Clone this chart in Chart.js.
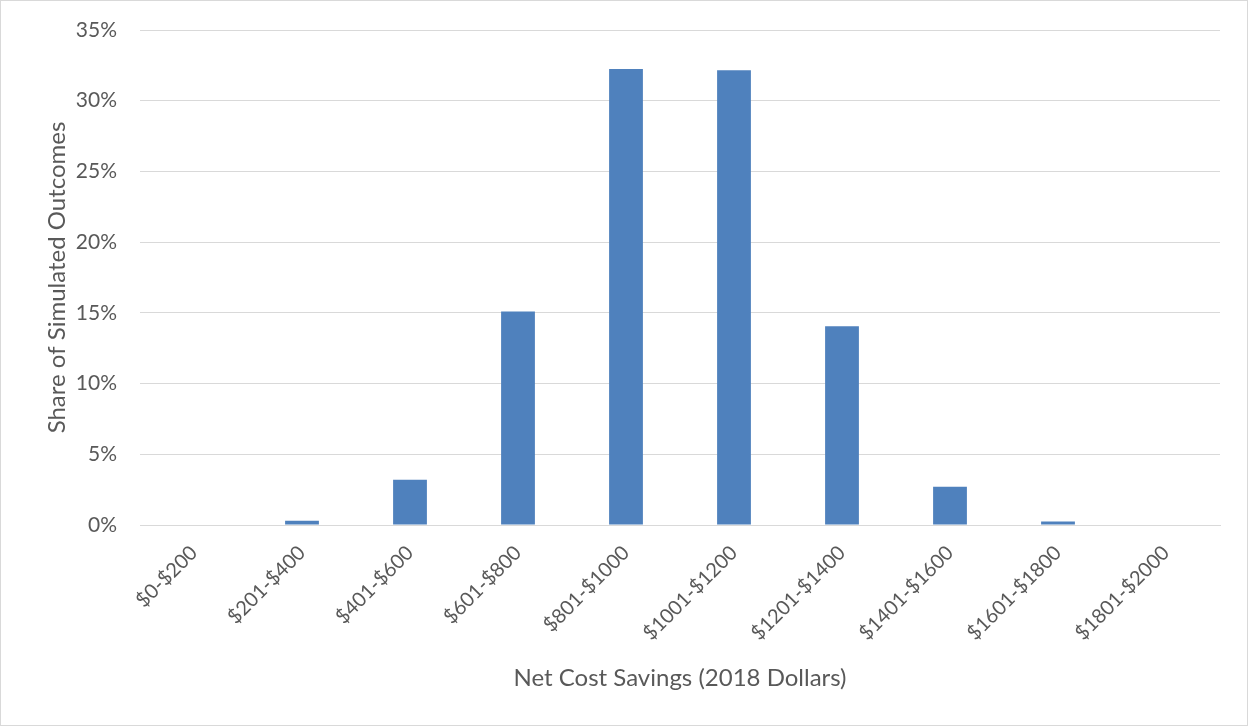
<!DOCTYPE html>
<html>
<head>
<meta charset="utf-8">
<script src="https://cdn.jsdelivr.net/npm/chart.js@4"></script>
<style>
    html, body { margin: 0; padding: 0; background: #fff; }
    #wrap { width: 1246px; height: 724px; border: 1px solid #d9d9d9; position: relative; }
    canvas { display: block; }
</style>
</head>
<body>
<div id="wrap"><canvas id="chart" width="1246" height="724"></canvas></div>
<script>
const categories = ["$0-$200", "$201-$400", "$401-$600", "$601-$800", "$801-$1000",
    "$1001-$1200", "$1201-$1400", "$1401-$1600", "$1601-$1800", "$1801-$2000"];
const shares = [0, 0.3, 3.2, 15.1, 32.25, 32.15, 14.05, 2.7, 0.25, 0];
const yTicks = [0, 5, 10, 15, 20, 25, 30, 35];

const textColor = "#595959";
const gridColor = "#d9d9d9";
const fontFamily = "Lato, 'Open Sans', sans-serif";

new Chart(document.getElementById("chart"), {
    type: "bar",
    data: {
        labels: categories,
        datasets: [{
            data: shares,
            backgroundColor: "#4f81bd",
            barPercentage: 0.313,
            categoryPercentage: 1,
        }],
    },
    options: {
        responsive: false,
        animation: false,
        layout: {padding: {top: 29, right: 27, bottom: 0, left: 0}},
        plugins: {legend: {display: false}, tooltip: {enabled: false}},
        scales: {
            x: {
                grid: {display: false, drawTicks: false},
                border: {color: gridColor, width: 1},
                ticks: {
                    color: textColor,
                    font: {family: fontFamily, size: 20},
                    minRotation: 45,
                    maxRotation: 45,
                    padding: 16,
                },
                title: {
                    display: true,
                    text: "Net Cost Savings (2018 Dollars)",
                    color: textColor,
                    font: {family: fontFamily, size: 24},
                    padding: {top: 0, bottom: 32},
                },
                afterFit: scale => { scale.height = 200; },
            },
            y: {
                min: 0,
                max: 35,
                afterBuildTicks: scale => { scale.ticks = yTicks.map(v => ({value: v})); },
                grid: {color: gridColor, lineWidth: 1, drawTicks: false},
                border: {display: false},
                ticks: {
                    color: textColor,
                    font: {family: fontFamily, size: 21},
                    padding: 23,
                    callback: v => v + "%",
                },
                title: {
                    display: true,
                    text: "Share of Simulated Outcomes",
                    color: textColor,
                    font: {family: fontFamily, size: 24},
                    padding: {top: 42, bottom: 0},
                },
                afterFit: scale => {
                    scale.width = 139;
                    scale.paddingTop = 0;
                    scale.paddingBottom = 0;
                },
            },
        },
    },
});
</script>
</body>
</html>
